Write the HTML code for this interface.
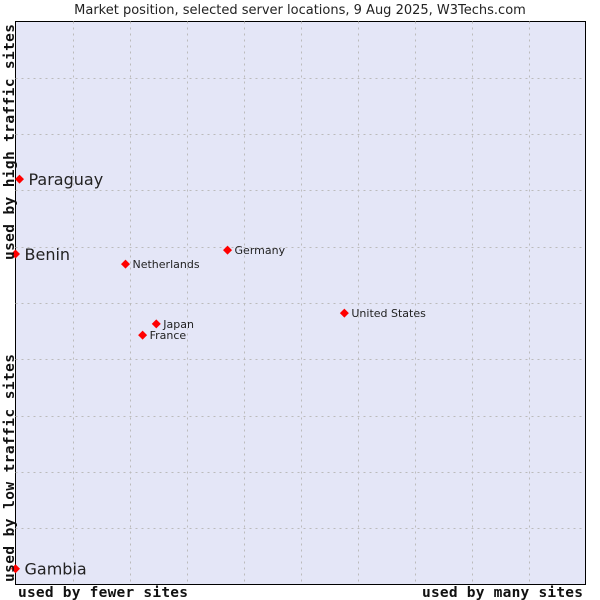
<!DOCTYPE html>
<html><head><meta charset="utf-8"><style>
body{margin:0;background:#fff}
svg{display:block;font-family:"DejaVu Sans","Liberation Sans",sans-serif}
.mono{font-family:"DejaVu Sans Mono","Liberation Mono",monospace;font-size:14.5px;font-weight:bold;fill:#111}
</style></head><body>
<svg id="chart" width="600" height="600">
<text x="300" y="14" text-anchor="middle" font-size="13" fill="#222">Market position, selected server locations, 9 Aug 2025, W3Techs.com</text>
<rect x="15.5" y="21.5" width="570" height="563" fill="#e4e6f7" stroke="#000"/>
<g id="grid"></g>
<g id="points"></g>
<text class="mono" x="18" y="597" textLength="170" lengthAdjust="spacing">used by fewer sites</text>
<text class="mono" x="422" y="597" textLength="161" lengthAdjust="spacing">used by many sites</text>
<text class="mono" transform="translate(14,582) rotate(-90)" textLength="228" lengthAdjust="spacing">used by low traffic sites</text>
<text class="mono" transform="translate(14,260) rotate(-90)" textLength="236" lengthAdjust="spacing">used by high traffic sites</text>
</svg>
<script>
const names=["Paraguay","Benin","Gambia","Netherlands","Germany","United States","Japan","France"];
const xVals=[0.7,0,0,19.3,37.2,57.7,24.7,22.3];
const yVals=[72,58.7,2.8,56.9,59.4,48.2,46.3,44.3];
const bigLabel=[true,true,true,false,false,false,false,false];
const L=15.5,R=585.5,T=21.5,B=584.5;
const sx=v=>L+v/100*(R-L), sy=v=>B-v/100*(B-T);
const ns="http://www.w3.org/2000/svg";
const g=document.getElementById('grid');
for(let i=1;i<10;i++){
  const x=Math.round(sx(i*10))+0.5, y=Math.round(sy(i*10))+0.5;
  const v=document.createElementNS(ns,'line');
  
  
  v.setAttribute('x1',x);v.setAttribute('x2',x);v.setAttribute('y1',T);v.setAttribute('y2',B);
  v.setAttribute('stroke','#bbbbbb');v.setAttribute('stroke-dasharray','2,4');g.appendChild(v);
  const h=document.createElementNS(ns,'line');
  
  
  h.setAttribute('x1',L);h.setAttribute('x2',R);h.setAttribute('y1',y);h.setAttribute('y2',y);
  h.setAttribute('stroke','#bbbbbb');h.setAttribute('stroke-dasharray','2,4');g.appendChild(h);
}
const p=document.getElementById('points');
names.forEach((n,i)=>{
  const x=sx(xVals[i]), y=sy(yVals[i]);
  const m=document.createElementNS(ns,'polygon');
  
  
  m.setAttribute('points',`${x},${y-4.5} ${x+4.5},${y} ${x},${y+4.5} ${x-4.5},${y}`);
  m.setAttribute('fill','#f00');p.appendChild(m);
  const t=document.createElementNS(ns,'text');
  
  
  t.setAttribute('x',x+(bigLabel[i]?9:7));
  t.setAttribute('y',y+(bigLabel[i]?6:4));
  t.setAttribute('font-size',bigLabel[i]?16:11);
  t.setAttribute('fill','#222');
  t.textContent=n;p.appendChild(t);
});
</script>
</body></html>
